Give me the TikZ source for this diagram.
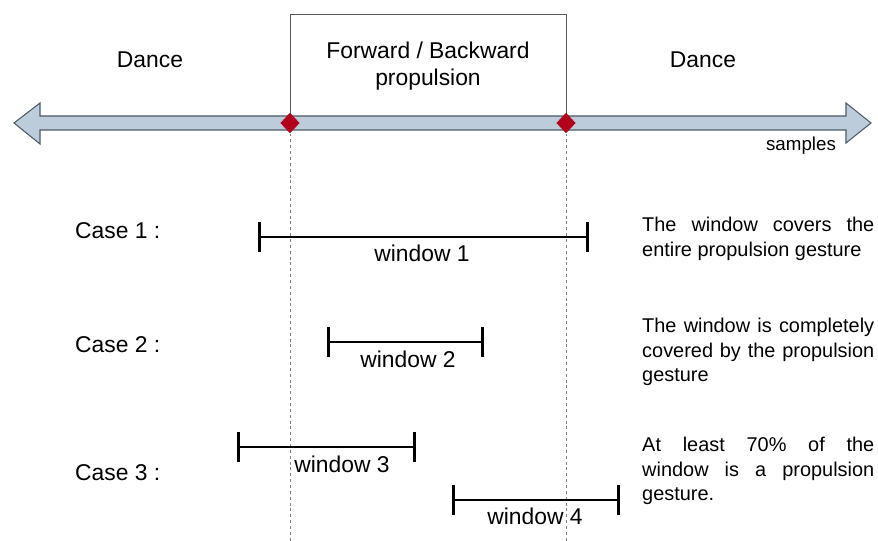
\documentclass[tikz,border=0pt]{standalone}
\usepackage{fontspec}
\setmainfont{Liberation Sans}
\usetikzlibrary{arrows.meta,shapes.geometric,positioning}

\definecolor{axisfill}{RGB}{188,204,218}
\definecolor{axisline}{RGB}{77,91,102}
\definecolor{markred}{RGB}{178,0,28}

\tolerance=10000
\hyphenpenalty=10000

\begin{document}
\begin{tikzpicture}[x=0.03cm,y=-0.03cm,
    txt/.style={font=\fontsize{19.5}{23}\selectfont,inner sep=0pt},
    note/.style={font={\fontsize{17}{21}\selectfont\spaceskip=.278em plus .8em},
                 text width=6.96cm,align=justify,anchor=north west,inner sep=0pt},
    win/.style={line width=2.3pt,{Bar[width=25pt]}-{Bar[width=25pt]}},
    guide/.style={gray,line width=0.6pt,dash pattern=on 2.5pt off 2.5pt},
    frame/.style={draw=black!65,line width=0.8pt},
    knot/.style={diamond,fill=markred,inner sep=0pt,
                 minimum width=0.58cm,minimum height=0.62cm}]

  \useasboundingbox (0,0) rectangle (878,541);

  % start / end of the gesture
  \coordinate (p1) at (290,123);
  \coordinate (p2) at (566,123);
  \coordinate (tl) at (290,14);
  \coordinate (tr) at (566,14);
  \coordinate (b1) at (290,541);
  \coordinate (b2) at (566,541);

  \draw[frame] (p1) -- (tl) -- (tr) -- (p2);

  % time axis
  \draw[axisline,fill=axisfill,line width=0.9pt,line join=miter]
    (14,123) -- (40,103) -- (40,116) -- (846,116) -- (846,103) -- (871,123)
    -- (846,143) -- (846,130) -- (40,130) -- (40,144) -- cycle;

  \node[knot] (d1) at (p1) {};
  \node[knot] (d2) at (p2) {};
  \draw[guide] (d1.south) -- (b1);
  \draw[guide] (d2.south) -- (b2);

  \node[txt] (dl) at (150,60) {Dance};
  \node[txt] (dr) at (703,60) {Dance};
  \node[txt,align=center,anchor=north] (fb) at (428,42)
    {Forward / Backward\\propulsion};
  \node[inner sep=0pt,font=\fontsize{16}{18}\selectfont] (smp) at (801,146) {samples};

  % cases
  \node[txt,anchor=west] (c1) at (75,231) {Case 1 :};
  \node[txt,anchor=west] (c2) at (75,345) {Case 2 :};
  \node[txt,anchor=west] (c3) at (75,473) {Case 3 :};

  \coordinate (w1l) at (258,237);  \coordinate (w1r) at (589,237);
  \coordinate (w2l) at (327,342);  \coordinate (w2r) at (484,342);
  \coordinate (w3l) at (237,447);  \coordinate (w3r) at (416,447);
  \coordinate (w4l) at (452,500);  \coordinate (w4r) at (620,500);

  \draw[win] (w1l) -- (w1r);
  \draw[win] (w2l) -- (w2r);
  \draw[win] (w3l) -- (w3r);
  \draw[win] (w4l) -- (w4r);

  \node[txt] (t1) at (422,253) {window 1};
  \node[txt] (t2) at (408,359) {window 2};
  \node[txt] (t3) at (342,464) {window 3};
  \node[txt] (t4) at (535,516) {window 4};

  \node[note] (n1) at (642,217) {The window covers the entire propulsion gesture};
  \node[note] (n2) at (642,318) {The window is completely covered by the propulsion gesture};
  \node[note] (n3) at (642,437) {At least 70\% of the window is a propulsion gesture.};

\end{tikzpicture}
\end{document}
